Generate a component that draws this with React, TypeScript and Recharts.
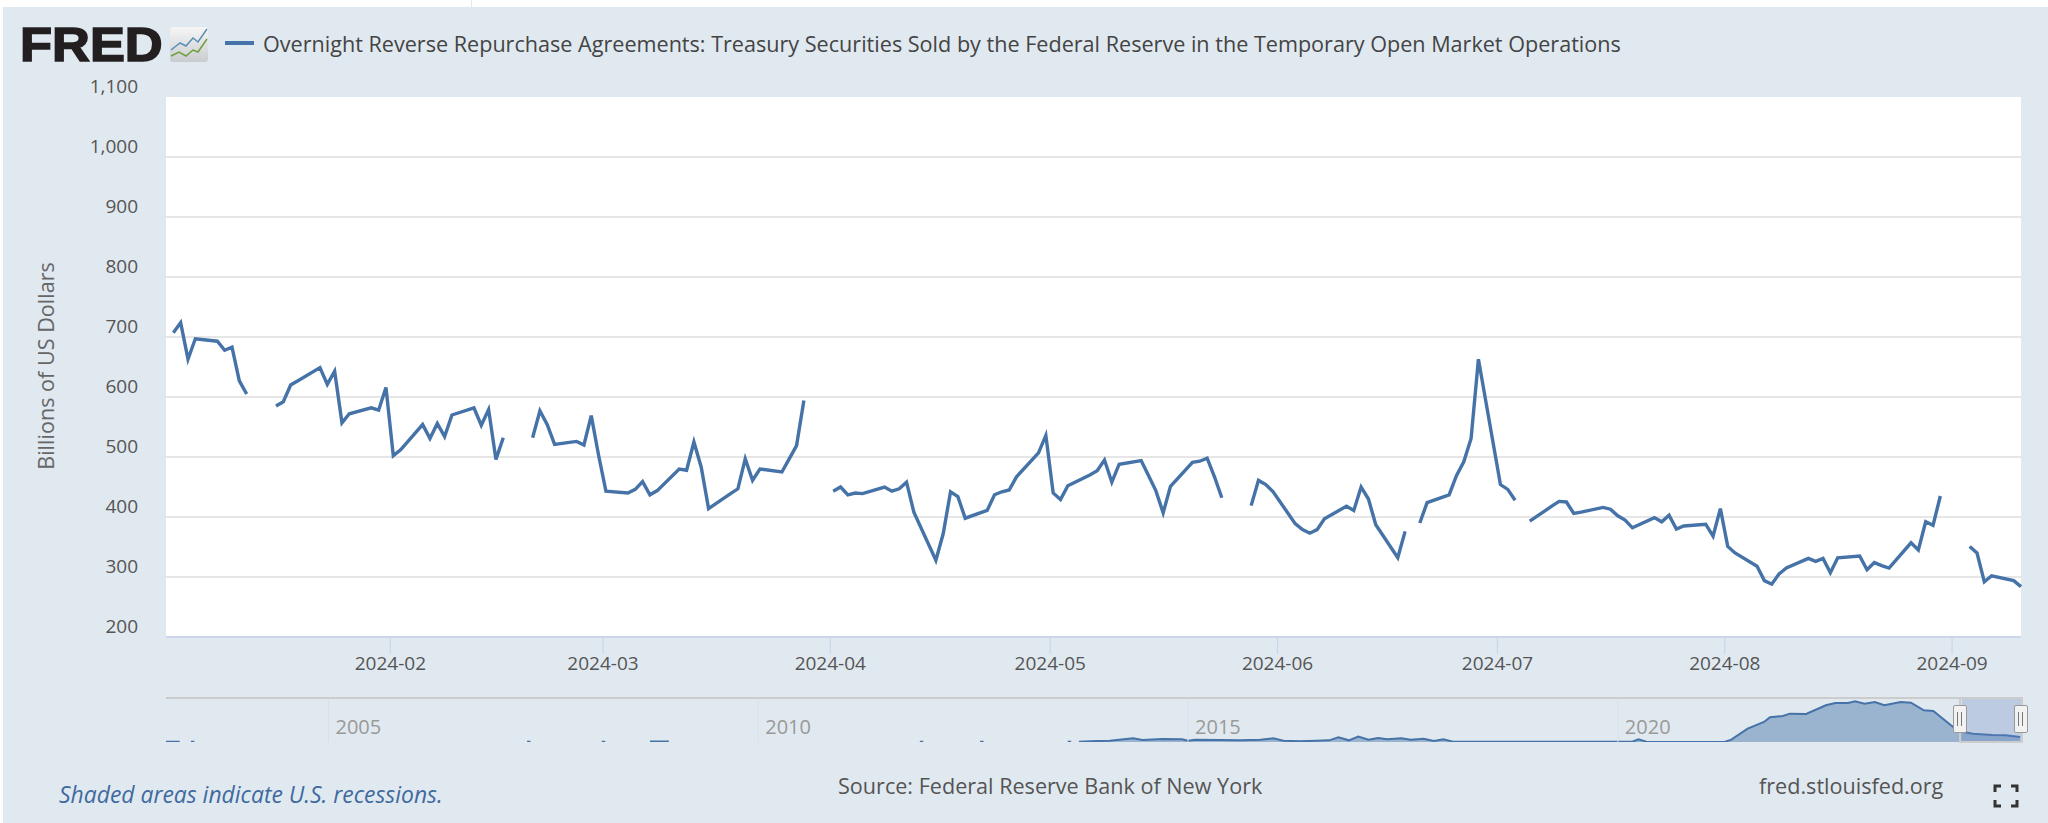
import { CartesianGrid, Area, ComposedChart, Line, ReferenceArea, ReferenceLine, XAxis, YAxis } from "recharts";

// ---------------------------------------------------------------------------
// Data
// ---------------------------------------------------------------------------

// days since 2024-01-01, weekdays only; holidays carry a null value
const days = [
  1, 2, 3, 4, 7, 8, 9, 10, 11, 14, 15, 16, 17, 18, 21, 22, 23, 24, 25, 28, 29, 30, 31, 32,
  35, 36, 37, 38, 39, 42, 43, 44, 45, 46, 49, 50, 51, 52, 53, 56, 57, 58, 59, 60,
  63, 64, 65, 66, 67, 70, 71, 72, 73, 74, 77, 78, 79, 80, 81, 84, 85, 86, 87, 88,
  91, 92, 93, 94, 95, 98, 99, 100, 101, 102, 105, 106, 107, 108, 109, 112, 113, 114, 115, 116,
  119, 120, 121, 122, 123, 126, 127, 128, 129, 130, 133, 134, 135, 136, 137, 140, 141, 142, 143, 144,
  147, 148, 149, 150, 151, 154, 155, 156, 157, 158, 161, 162, 163, 164, 165, 168, 169, 170, 171, 172,
  175, 176, 177, 178, 179, 182, 183, 184, 185, 186, 189, 190, 191, 192, 193, 196, 197, 198, 199, 200,
  203, 204, 205, 206, 207, 210, 211, 212, 213, 214, 217, 218, 219, 220, 221, 224, 225, 226, 227, 228,
  231, 232, 233, 234, 235, 238, 239, 240, 241, 242, 245, 246, 247, 248, 249, 252, 253,
];

const rrpValues = [
  707, 724, 663, 697, 693, 678, 683, 627, 605, null, 585, 592, 620, 627, 649, 621, 643, 557, 572, 582, 578, 616, 502, 512,
  554, 531, 556, 534, 570, 582, 553, 579, 496, 532, null, 532, 577, 554, 521, 526, 520, 569, 503, 443,
  440, 446, 459, 437, 444, 480, 478, 525, 483, 414, 439, 447, 497, 461, 480, 475, 497, 519, 594, null,
  443, 450, 437, 440, 439, 450, 443, 447, 458, 408, 328, 372, 442, 434, 398, 411, 437, 442, 445, 467,
  507, 536, 440, 429, 452, 470, 477, 495, 458, 488, 494, 469, 444, 407, 451, 491, 493, 498, 467, 432,
  null, 419, 461, 454, 442, 389, 379, 373, 379, 397, 418, 411, 450, 430, 387, 332, 376, null, 390, 424,
  437, 469, 492, 531, 663, 454, 446, 428, null, 393, 418, 426, 425, 406, 408, 416, 413, 402, 395, 382,
  399, 392, 403, 380, 385, 388, 368, 414, 351, 340, 318, 294, 288, 305, 315, 331, 326, 331, 307, 332,
  335, 312, 324, 319, 315, 357, 345, 392, 386, 435, null, 351, 340, 292, 302, 294, 284,
];

const yTicks = [200, 300, 400, 500, 600, 700, 800, 900, 1000, 1100];
const gridValues = [300, 400, 500, 600, 700, 800, 900, 1000];

const monthTicks = [30.6, 59.6, 90.6, 120.6, 151.6, 181.6, 212.6, 243.6];
const monthLabels = ["2024-02", "2024-03", "2024-04", "2024-05", "2024-06", "2024-07", "2024-08", "2024-09"];

// overview strip under the chart
const navYears = [
  2003.11, 2003.27, 2003.3, 2003.4, 2003.44, 2003.5, 2007.31, 2007.35, 2007.4, 2008.18, 2008.22, 2008.3, 2008.74, 2008.96, 2009.0,
  2011.88, 2011.92, 2012.0, 2012.58, 2012.62, 2012.7, 2013.6, 2013.64, 2013.68,
  2013.73, 2013.94, 2014.09, 2014.36, 2014.47, 2014.7, 2014.93, 2015.0, 2015.08, 2015.38, 2015.61, 2015.84, 2015.99, 2016.11,
  2016.3, 2016.49, 2016.64, 2016.75, 2016.87, 2016.98, 2017.1, 2017.21, 2017.32, 2017.48, 2017.59, 2017.74, 2017.86, 2017.97,
  2018.08, 2018.43, 2019.95, 2020.17, 2020.24, 2020.33, 2021.24, 2021.32, 2021.51, 2021.7, 2021.77, 2021.92, 2022.0, 2022.19,
  2022.42, 2022.53, 2022.68, 2022.76, 2022.87, 2022.99, 2023.1, 2023.29, 2023.41, 2023.56, 2023.67, 2023.9, 2024.02, 2024.13,
  2024.36, 2024.51, 2024.68,
];
const navValues = [
  20, 20, null, 20, 20, null, 20, 20, null, 20, 20, null, 30, 30, null,
  20, 20, null, 20, 20, null, 20, 20, null,
  21, 63, 84, 231, 126, 189, 168, 84, 147, 126, 105, 147, 231, 84,
  42, 84, 105, 294, 105, 336, 147, 252, 168, 231, 147, 210, 63, 168,
  21, 10, 20, 20, 168, 20, 5, 147, 840, 1260, 1554, 1638, 1785, 1764,
  2310, 2457, 2457, 2562, 2415, 2520, 2310, 2520, 2478, 1995, 1953, 945, 630, 525,
  441, 420, 315,
];
const navTicks = [2005, 2010, 2015, 2020];

const rows = days.map((day, i) => ({ day, value: rrpValues[i] }));
const navRows = navYears.map((year, i) => ({ year, value: navValues[i] }));

// ---------------------------------------------------------------------------
// Helpers
// ---------------------------------------------------------------------------

const FONT = '"Open Sans", sans-serif';
const BLUE = "#4572a7";
const TEXT = "#555";

function YTick({ y, payload }: { y?: number; payload?: { value: number } }) {
  return (
    <text x={138} y={(y ?? 0) - 4} textAnchor="end" fill={TEXT} fontSize={19} fontFamily={FONT}>
      {(payload?.value ?? 0).toLocaleString("en-US")}
    </text>
  );
}

function Label({ x, y, size, color, italic, children }: any) {
  return (
    <span
      style={{
        position: "absolute",
        left: x,
        top: y,
        fontFamily: FONT,
        fontSize: size,
        color,
        fontStyle: italic ? "italic" : "normal",
        whiteSpace: "nowrap",
        lineHeight: "26px",
      }}
    >
      {children}
    </span>
  );
}

function Handle({ x }: { x: number }) {
  return (
    <div
      style={{
        position: "absolute",
        left: x - 7,
        top: 705,
        width: 12,
        height: 26,
        background: "#f2f2f2",
        border: "1.5px solid #999",
        borderRadius: 2,
      }}
    >
      <div style={{ position: "absolute", left: 3, top: 6, width: 1, height: 14, background: "#777" }} />
      <div style={{ position: "absolute", left: 7, top: 6, width: 1, height: 14, background: "#777" }} />
    </div>
  );
}

// ---------------------------------------------------------------------------
// Component
// ---------------------------------------------------------------------------

export default function App() {
  return (
    <div style={{ position: "absolute", left: 0, top: 0, width: 2048, height: 823, overflow: "hidden", background: "#fff" }}>
      <div style={{ position: "absolute", left: 471, top: 0, width: 1, height: 7, background: "#e1e9f0" }} />
      <div style={{ position: "absolute", left: 3, top: 7, right: 0, bottom: 0, background: "#e1e9f0" }} />

      {/* logo */}
      <span
        style={{
          position: "absolute",
          left: 20,
          top: 16,
          fontFamily: '"Liberation Sans", sans-serif',
          fontWeight: 700,
          fontSize: 49,
          lineHeight: "56px",
          letterSpacing: 0,
          color: "#231f20",
          WebkitTextStroke: "1.6px #231f20",
          transform: "scaleX(1.07)",
          transformOrigin: "left center",
        }}
      >
        FRED
      </span>
      <svg style={{ position: "absolute", left: 0, top: 0 }} width={230} height={80}>
        <defs>
          <linearGradient id="logoBg" x1="0" y1="0" x2="0" y2="1">
            <stop offset="0" stopColor="#f6f6f6" />
            <stop offset="1" stopColor="#c9cccf" />
          </linearGradient>
        </defs>
        <rect x={170} y={27} width={38} height={35} rx={3} fill="url(#logoBg)" />
        <polyline points="171,50 180,43 186,46 193,38 198,42 207,29" fill="none" stroke="#5b8fb5" strokeWidth={1.5} />
        <polyline points="171,56 179,52 186,56 193,50 198,52 207,39" fill="none" stroke="#6f9f3e" strokeWidth={1.5} />
      </svg>

      {/* legend */}
      <div style={{ position: "absolute", left: 225, top: 41, width: 29, height: 4, background: BLUE }} />
      <Label x={263} y={31} size={21.6} color="#444">
        Overnight Reverse Repurchase Agreements: Treasury Securities Sold by the Federal Reserve in the Temporary Open Market Operations
      </Label>

      {/* main chart */}
      <div style={{ position: "absolute", left: 0, top: 0 }}>
        <ComposedChart width={2048} height={690} data={rows} margin={{ top: 97, right: 27, left: 106, bottom: 13 }}>
          <CartesianGrid vertical={false} horizontalValues={gridValues} stroke="#e6e6e6" strokeWidth={2} fill="#fff" />
          <XAxis
            dataKey="day"
            type="number"
            domain={[0, 253]}
            ticks={monthTicks}
            interval={0}
            height={40}
            tickSize={17}
            tickMargin={3}
            tickFormatter={(v: number) => monthLabels[monthTicks.indexOf(v)]}
            tick={{ fill: TEXT, fontSize: 19, fontFamily: FONT }}
            tickLine={{ stroke: "#ccd6eb", strokeWidth: 1.3 }}
            axisLine={{ stroke: "#ccd6eb", strokeWidth: 2 }}
          />
          <YAxis
            domain={[200, 1100]}
            ticks={yTicks}
            interval={0}
            width={60}
            axisLine={false}
            tickLine={false}
            tick={<YTick />}
          />
          <Line
            dataKey="value"
            stroke={BLUE}
            strokeWidth={3.4}
            strokeLinejoin="miter"
            dot={false}
            activeDot={false}
            isAnimationActive={false}
          />
        </ComposedChart>
      </div>

      {/* y axis title */}
      <span
        style={{
          position: "absolute",
          left: 45,
          top: 366,
          transform: "translate(-50%, -50%) rotate(-90deg)",
          fontFamily: FONT,
          fontSize: 21.6,
          color: "#666",
          whiteSpace: "nowrap",
        }}
      >
        Billions of US Dollars
      </span>

      {/* overview strip */}
      <div style={{ position: "absolute", left: 0, top: 698 }}>
        <ComposedChart width={2048} height={44} data={navRows} margin={{ top: 0, right: 27, left: 166, bottom: 0 }}>
          <XAxis dataKey="year" type="number" domain={[2003.11, 2024.69]} hide />
          <YAxis domain={[0, 2770]} hide />
          {navTicks.map((t) => (
            <ReferenceLine
              key={t}
              x={t}
              stroke="#d8e0e8"
              label={{ value: String(t), position: "insideBottomLeft", fill: "#999", fontSize: 20, fontFamily: FONT, offset: 7, dy: -1 }}
            />
          ))}
          <Area
            dataKey="value"
            stroke={BLUE}
            strokeWidth={2}
            fill={BLUE}
            fillOpacity={0.45}
            dot={false}
            activeDot={false}
            isAnimationActive={false}
          />
          <ReferenceArea x1={2024.0} x2={2024.69} fill="#6685c2" fillOpacity={0.3} stroke="none" />
        </ComposedChart>
      </div>
      <div style={{ position: "absolute", left: 166, top: 697, width: 1855, height: 2, background: "#ccc" }} />
      <div
        style={{
          position: "absolute",
          left: 1959,
          top: 697,
          width: 60,
          height: 44,
          borderLeft: "2px solid #ccc",
          borderRight: "2px solid #ccc",
          borderBottom: "2px solid #ccc",
        }}
      />
      <Handle x={1960} />
      <Handle x={2021} />

      {/* footer */}
      <Label x={59} y={782} size={22.9} color="#3f6a9f" italic>
        Shaded areas indicate U.S. recessions.
      </Label>
      <Label x={838} y={773} size={21.6} color={TEXT}>
        Source: Federal Reserve Bank of New York
      </Label>
      <Label x={1759} y={773} size={21.6} color={TEXT}>
        fred.stlouisfed.org
      </Label>
      <svg style={{ position: "absolute", left: 1990, top: 780 }} width={32} height={32}>
        <path
          d="M5 12 V6 H11 M21 6 H27 V12 M5 20 V26 H11 M21 26 H27 V20"
          fill="none"
          stroke="#333"
          strokeWidth={3}
        />
      </svg>
    </div>
  );
}
